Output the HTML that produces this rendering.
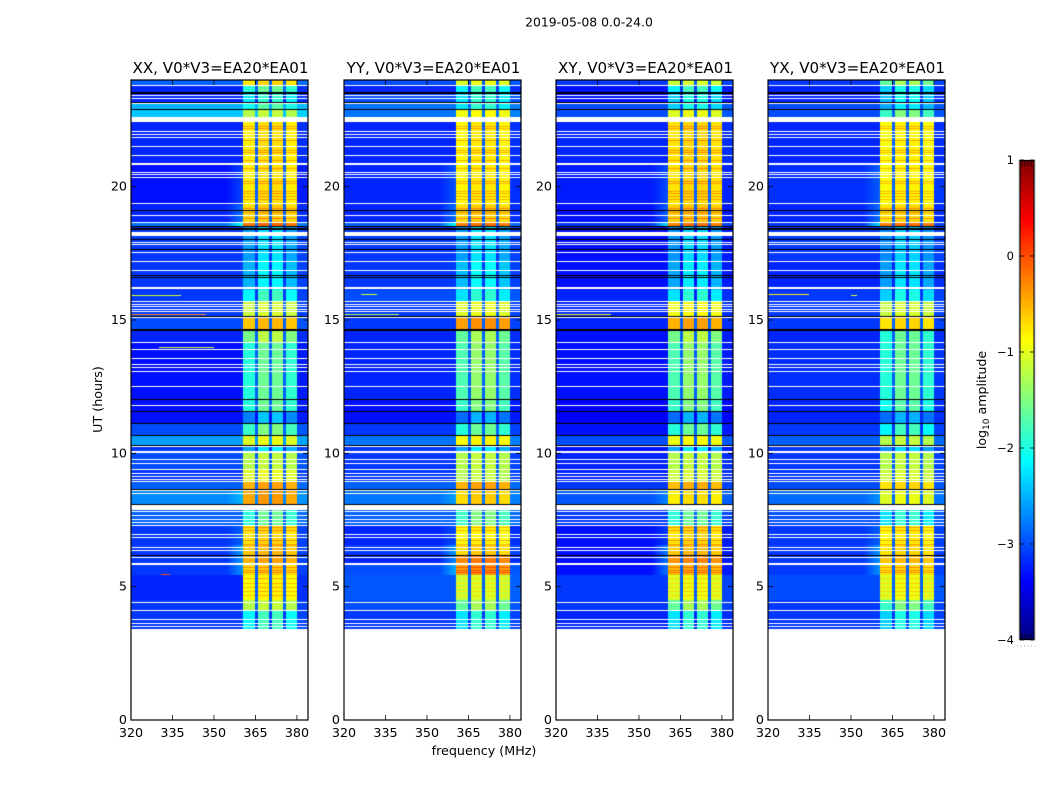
<!DOCTYPE html>
<html lang="en">
<head>
<meta charset="utf-8">
<title>2019-05-08 0.0-24.0</title>
<style>
html,body{margin:0;padding:0;background:#fff;}
#figure{position:relative;width:1050px;height:800px;overflow:hidden;background:#fff;font-family:"DejaVu Sans","Liberation Sans",sans-serif;}
#figure canvas{position:absolute;display:block;}
#figure svg{position:absolute;left:0;top:0;}
text{font-family:"DejaVu Sans","Liberation Sans",sans-serif;fill:#000;}
</style>
</head>
<body>
<div id="figure">
<svg id="overlay" width="1050" height="800" viewBox="0 0 1050 800">
  <defs><linearGradient id="jetGradient" x1="0" y1="1" x2="0" y2="0"></linearGradient></defs>
  <text x="589" y="26.5" text-anchor="middle" font-size="12.4">2019-05-08 0.0-24.0</text>
  <text transform="translate(102,399.5) rotate(-90)" text-anchor="middle" font-size="12.7">UT (hours)</text>
  <text x="484" y="755" text-anchor="middle" font-size="12.7">frequency (MHz)</text>
  <text transform="translate(986,400) rotate(-90)" text-anchor="middle" font-size="12.6">log<tspan dy="3" font-size="9">10</tspan><tspan dy="-3"> amplitude</tspan></text>
</svg>
</div>
<script>
// ---- Chart data ----
const panelTitles = ["XX, V0*V3=EA20*EA01", "YY, V0*V3=EA20*EA01", "XY, V0*V3=EA20*EA01", "YX, V0*V3=EA20*EA01"];
const freqTicks = [320, 335, 350, 365, 380];
const hourTicks = [0, 5, 10, 15, 20];
const colorTicks = [1, 0, -1, -2, -3, -4];

// Edges (UT hours, descending) of time blocks with a roughly constant level.
const blockEdges = [24,23.83,23.55,23.12,22.91,22.61,20.81,19.31,18.68,18.53,17.25,16.13,15.71,15.15,14.66,14.18,12.04,11.59,11.14,10.69,10.31,10.01,9.38,8.96,8.66,8.10,7.31,6.56,6.19,5.89,5.44,4.5,4.13,3.41];

// log10 amplitude inside the 360-380 MHz band, per time block.
const bandXX = [-0.7,-1.7,-2.0,-1.8,-1.2,-0.75,-0.75,-0.65,-0.15,-2.35,-2.25,-1.9,-1.1,-0.55,-1.3,-1.7,-1.7,-2.5,-1.6,-1.0,-2.3,-1.2,-1.0,-0.45,-0.4,-1.7,-0.7,-0.55,-0.45,-0.65,-0.85,-1.2,-1.9];
const bandYY = [-1.0,-1.9,-2.0,-2.0,-0.9,-0.8,-0.8,-0.65,-0.2,-2.35,-2.2,-2.0,-1.0,-0.35,-1.4,-1.5,-1.6,-2.6,-1.7,-0.85,-2.3,-1.2,-1.2,-0.45,-0.65,-1.6,-0.85,-0.65,-0.25,-0.35,-1.1,-1.4,-2.0];
const bandXY = [-1.1,-1.9,-2.1,-2.1,-1.0,-0.7,-0.7,-0.6,-0.2,-2.4,-2.3,-2.0,-0.9,-0.45,-1.3,-1.5,-1.6,-2.6,-1.7,-0.9,-2.3,-1.2,-1.1,-0.5,-0.75,-1.7,-0.7,-0.55,-0.3,-0.5,-1.0,-1.4,-2.0];
const bandYX = [-1.4,-2.1,-2.2,-2.3,-1.6,-0.85,-0.85,-0.7,-0.2,-2.45,-2.35,-2.1,-1.1,-0.7,-1.7,-1.7,-1.8,-2.6,-1.9,-1.2,-2.4,-1.2,-1.1,-0.7,-1.0,-2.0,-0.8,-0.7,-0.55,-0.7,-1.0,-1.6,-2.1];

// log10 amplitude of the out-of-band background, per time block.
const bgXX = [-2.9,-3.2,-3.2,-2.5,-2.4,-3.2,-3.3,-3.2,-2.8,-3.1,-3.1,-3.1,-3.1,-3.0,-3.2,-3.3,-3.3,-3.3,-3.0,-2.6,-3.1,-3.0,-3.1,-2.9,-2.7,-2.9,-3.1,-3.1,-3.1,-3.1,-3.2,-3.1,-3.1];
const bgYY = [-3.0,-3.2,-3.0,-2.8,-2.8,-3.2,-3.2,-3.2,-2.9,-3.1,-3.1,-3.0,-3.1,-3.1,-3.2,-3.2,-3.3,-3.3,-3.1,-2.8,-3.1,-3.1,-3.1,-2.9,-2.8,-2.9,-3.2,-3.1,-3.2,-3.0,-2.95,-3.0,-3.1];
const bgXY = [-3.1,-3.3,-3.3,-3.0,-3.0,-3.2,-3.25,-3.3,-3.1,-3.3,-3.3,-3.2,-3.2,-3.2,-3.3,-3.3,-3.4,-3.4,-3.3,-3.0,-3.3,-3.2,-3.2,-3.1,-2.95,-3.1,-3.3,-3.3,-3.3,-3.3,-3.1,-3.1,-3.2];
const bgYX = [-3.1,-3.2,-3.2,-3.0,-3.0,-3.2,-3.15,-3.2,-3.1,-3.1,-3.2,-3.1,-3.1,-3.1,-3.2,-3.15,-3.2,-3.2,-3.1,-2.9,-3.1,-3.1,-3.1,-3.0,-2.85,-3.0,-3.1,-3.1,-3.1,-3.1,-3.0,-3.1,-3.1];

// Strength of the glow just below the band edge, per time block.
const skirtStrength = [0,0,0,0,0,0,0.1,0.15,0.3,0,0,0,0,0,0,0,0,0,0,0,0,0,0,0,0.1,0,0.08,0.2,0.18,0.18,0,0,0];

// Sub-bands in MHz, and their level offsets in warm and cool blocks.
const subbandStart = [360.5, 366, 371, 376];
const subbandEnd = [365, 370, 375, 380];
const subbandOffset = [-0.05, 0.03, 0.03, -0.05];
const coolSubbandOffset = [-0.25, 0.1, 0.1, -0.2];

// Flagged (white) hours, as centres of thin lines and [start, end] thick ones.
const blankLines = [23.83,23.44,23.31,23.12,22.09,21.99,21.86,21.53,21.17,20.55,20.48,20.36,19.37,18.92,18.69,17.94,17.85,17.55,17.23,16.89,15.71,15.60,15.53,15.41,15.34,15.11,14.18,13.91,13.58,13.35,13.24,13.09,12.53,11.81,10.28,9.79,9.64,9.41,9.26,9.15,9.04,8.96,8.61,8.51,7.84,7.69,7.54,7.44,7.31,6.98,6.86,6.47,6.39,6.11,4.43,4.13,3.79,3.64,3.54];
const blankBandStart = [22.43,20.81,18.15,16.16,10.01,7.88,5.83];
const blankBandEnd = [22.61,20.89,18.30,16.24,10.07,8.07,5.89];

// Zero-amplitude (black) rows.
const blackLines = [23.55,23.51,23.16,22.91,19.13,18.53,18.46,18.40,18.04,17.68,16.69,16.61,15.15,14.66,14.62,12.04,11.59,11.14,10.69,10.31,8.66,8.10,6.19];

// Hours where the in-band level is visibly stepped up (orange stripes).
const stripeHours = [22.28,22.2,21.75,21.38,21.3,21,20.7,20.21,20.14,19.84,19.76,19.65,19.54,19.2,19.05,18.83,7.24,7.13,6.75,6.6,5.74,5.63,5.55,5.33,5.14,4.99,4.84,4.69];

// Narrow-band interference streaks: panel, hour, start MHz, end MHz, level.
const rfiPanel = [0,0,0,0,1,1,2,3,3];
const rfiHour = [15.23,15.94,13.99,5.48,15.23,15.96,15.23,15.96,15.94];
const rfiStart = [320,320,330,331,320,326,320,320,350];
const rfiEnd = [347,338,350,334,340,332,340,335,352];
const rfiLevel = [-0.3,-1.1,-1.1,0,-1.2,-1.1,-0.9,-0.8,-1.0];

// ---- Layout ----
const panelLeft = [131, 344, 556, 768];
const panelWidth = 177;
const plotTop = 80;
const plotBottom = 720;
const freqMin = 320, freqMax = 384, hourMin = 0, hourMax = 24;
const channelWidth = 0.5;
const coolThreshold = -1.2;
const colorMin = -4, colorMax = 1;
const cbarLeft = 1019, cbarRight = 1035, cbarTop = 160, cbarBottom = 640;

const svgNS = "http://www.w3.org/2000/svg";
const overlay = document.getElementById("overlay");
const figure = document.getElementById("figure");

function xScale(freq) { return (freq - freqMin) / (freqMax - freqMin) * panelWidth; }
function yScale(hour) { return plotTop + (hourMax - hour) / (hourMax - hourMin) * (plotBottom - plotTop); }
function colorY(value) { return cbarBottom - (value - colorMin) / (colorMax - colorMin) * (cbarBottom - cbarTop); }

function jet(value) {
  const t = Math.max(0, Math.min(1, (value - colorMin) / (colorMax - colorMin)));
  const ramp = (v) => Math.round(255 * Math.max(0, Math.min(1, 1.5 - Math.abs(4 * t - v))));
  return "rgb(" + ramp(3) + "," + ramp(2) + "," + ramp(1) + ")";
}

function shape(tag, attrs) {
  const el = document.createElementNS(svgNS, tag);
  for (const key in attrs) el.setAttribute(key, attrs[key]);
  overlay.appendChild(el);
  return el;
}

function subbandLevel(band, s) {
  return band + (band < coolThreshold ? coolSubbandOffset[s] : subbandOffset[s]);
}

function levelAt(freq, band, bg, skirt) {
  for (let s = 0; s < subbandStart.length; s++) {
    if (freq >= subbandStart[s] && freq < subbandEnd[s]) return subbandLevel(band, s);
  }
  if (freq >= subbandStart[0] && freq < subbandEnd[subbandEnd.length - 1]) {
    return Math.max(bg, Math.min(band - 1.2, -2.9));
  }
  if (freq < subbandStart[0] && freq > subbandStart[0] - 6) {
    return bg + (band - bg) * skirt * (1 - (subbandStart[0] - freq) / 6);
  }
  return freq >= subbandEnd[subbandEnd.length - 1] ? bg + 0.05 : bg;
}

function drawHeatmap(ctx, panelIndex, band, bg) {
  const rowY = (hour) => Math.round(yScale(hour) - plotTop);
  for (let b = 0; b < band.length; b++) {
    const y0 = rowY(blockEdges[b]);
    const y1 = rowY(blockEdges[b + 1]);
    for (let f = freqMin; f < freqMax; f += channelWidth) {
      const x0 = Math.round(xScale(f));
      const x1 = Math.round(xScale(f + channelWidth));
      ctx.fillStyle = jet(levelAt(f + channelWidth / 2, band[b], bg[b], skirtStrength[b]));
      ctx.fillRect(x0, y0, x1 - x0, y1 - y0);
    }
  }
  // Stepped-up stripes inside the band
  stripeHours.forEach(function (hour) {
    const b = blockEdges.findIndex((edge, i) => i < band.length && hour <= edge && hour > blockEdges[i + 1]);
    if (b < 0) return;
    const y = rowY(hour);
    subbandStart.forEach(function (start, s) {
      const x0 = Math.round(xScale(start));
      const x1 = Math.round(xScale(subbandEnd[s]));
      ctx.fillStyle = jet(subbandLevel(band[b], s) + 0.35);
      ctx.fillRect(x0, y, x1 - x0, 1);
    });
  });
  // Interference streaks
  rfiHour.forEach(function (hour, i) {
    if (rfiPanel[i] !== panelIndex) return;
    const x0 = Math.round(xScale(rfiStart[i]));
    const x1 = Math.round(xScale(rfiEnd[i]));
    ctx.fillStyle = jet(rfiLevel[i]);
    ctx.fillRect(x0, rowY(hour), x1 - x0, 1);
  });
  // Black rows
  ctx.fillStyle = "#000";
  blackLines.forEach(function (hour) { ctx.fillRect(0, rowY(hour), panelWidth, 1); });
  // Flagged rows
  ctx.fillStyle = "#fff";
  blankLines.forEach(function (hour) { ctx.fillRect(0, rowY(hour), panelWidth, 1); });
  blankBandStart.forEach(function (start, i) {
    const y0 = rowY(blankBandEnd[i]);
    const y1 = rowY(start);
    ctx.fillRect(0, y0, panelWidth, Math.max(1, y1 - y0));
  });
}

const panelBands = [bandXX, bandYY, bandXY, bandYX];
const panelBackgrounds = [bgXX, bgYY, bgXY, bgYX];

panelTitles.forEach(function (title, p) {
  const left = panelLeft[p];
  const canvas = document.createElement("canvas");
  
  
  canvas.width = panelWidth;
  canvas.height = plotBottom - plotTop;
  canvas.style.left = left + "px";
  canvas.style.top = plotTop + "px";
  figure.insertBefore(canvas, overlay);
  drawHeatmap(canvas.getContext("2d"), p, panelBands[p], panelBackgrounds[p]);

  const titleEl = shape("text", { x: left + panelWidth / 2 + 1, y: 73, "text-anchor": "middle", "font-size": "15.1" });
  
  
  titleEl.textContent = title;

  const frame = shape("rect", { x: left, y: plotTop, width: panelWidth, height: plotBottom - plotTop, fill: "none", stroke: "#000", "stroke-width": "1.2" });
  
  

  freqTicks.forEach(function (freq) {
    const x = left + xScale(freq);
    const bottomTick = shape("line", { x1: x, x2: x, y1: plotBottom, y2: plotBottom - 5, stroke: "#000", "stroke-width": "0.8" });
    
    
    const topTick = shape("line", { x1: x, x2: x, y1: plotTop, y2: plotTop + 5, stroke: "#000", "stroke-width": "0.8" });
    
    
    const label = shape("text", { x: x, y: 737, "text-anchor": "middle", "font-size": "12.7" });
    
    
    label.textContent = freq;
  });

  hourTicks.forEach(function (hour) {
    const y = yScale(hour);
    const leftTick = shape("line", { x1: left, x2: left + 5, y1: y, y2: y, stroke: "#000", "stroke-width": "0.8" });
    
    
    const rightTick = shape("line", { x1: left + panelWidth - 5, x2: left + panelWidth, y1: y, y2: y, stroke: "#000", "stroke-width": "0.8" });
    
    
    const label = shape("text", { x: left - 4, y: y + 4, "text-anchor": "end", "font-size": "12.7" });
    
    
    label.textContent = hour;
  });
});

// ---- Colorbar ----
const gradient = document.getElementById("jetGradient");
for (let i = 0; i <= 40; i++) {
  const stop = document.createElementNS(svgNS, "stop");
  stop.setAttribute("offset", (i / 40 * 100) + "%");
  stop.setAttribute("stop-color", jet(colorMin + (colorMax - colorMin) * i / 40));
  gradient.appendChild(stop);
}

const cbarWidth = cbarRight - cbarLeft;
const cbarRect = shape("rect", { x: cbarLeft, y: cbarTop, width: cbarWidth, height: cbarBottom - cbarTop, fill: "url(#jetGradient)", stroke: "#bbb", "stroke-width": "1" });



const cbarInner = shape("rect", { x: cbarLeft + 1, y: cbarTop + 0.5, width: cbarWidth - 2, height: cbarBottom - cbarTop - 1, fill: "none", stroke: "#000", "stroke-width": "1" });



colorTicks.forEach(function (value) {
  const y = colorY(value);
  const leftTick = shape("line", { x1: cbarLeft + 1, x2: cbarLeft + 5, y1: y, y2: y, stroke: "#000", "stroke-width": "0.8" });
  
  
  const rightTick = shape("line", { x1: cbarRight - 5, x2: cbarRight - 1, y1: y, y2: y, stroke: "#000", "stroke-width": "0.8" });
  
  
  const label = shape("text", { x: 1014, y: y + 4, "text-anchor": "end", "font-size": "11.5" });
  
  
  label.textContent = String(value).replace("-", "\u2212");
});

[3, 6, 9, 12].forEach(function (offset) {
  const topMark = shape("line", { x1: cbarLeft + offset, x2: cbarLeft + offset, y1: cbarTop, y2: cbarTop + 6, stroke: "#000", "stroke-width": "0.8" });
  
  
  const bottomMark = shape("line", { x1: cbarLeft + offset, x2: cbarLeft + offset, y1: cbarBottom - 6, y2: cbarBottom, stroke: "#000", "stroke-width": "0.8" });
  
  
});

const cbarDots = shape("line", { x1: 1017, x2: 1035, y1: 646, y2: 646, stroke: "#999", "stroke-width": "1", "stroke-dasharray": "1 2.5" });


</script>
</body>
</html>
